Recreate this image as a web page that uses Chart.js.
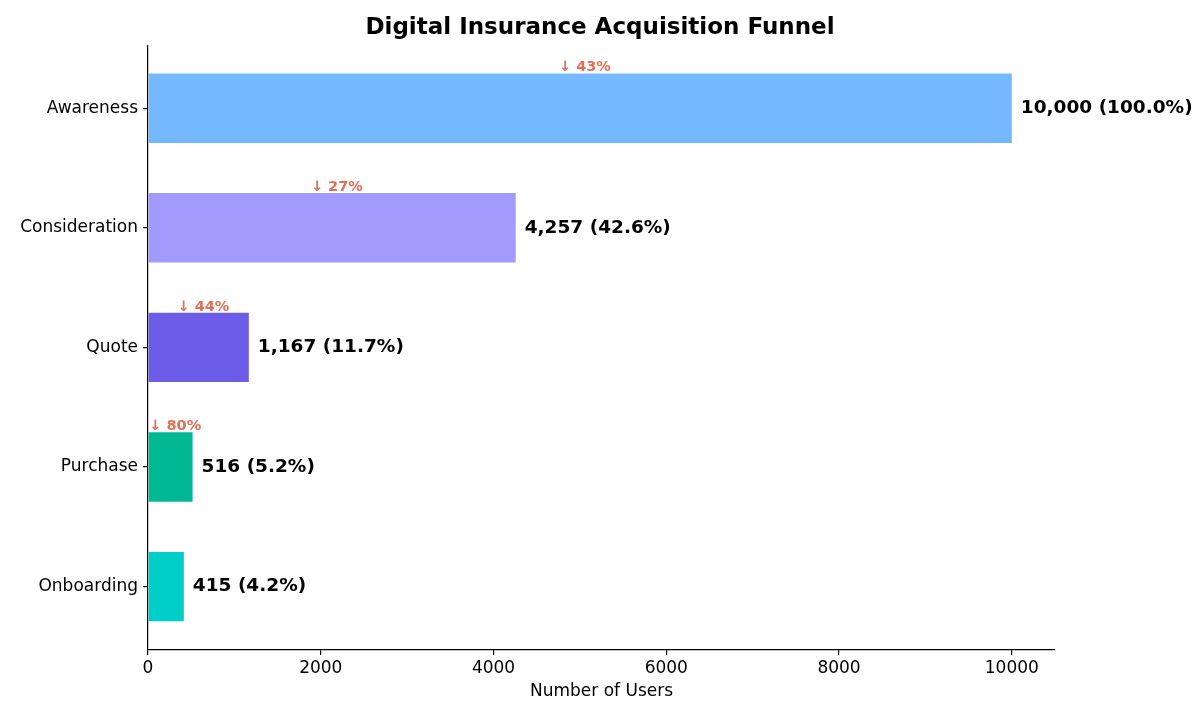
<!DOCTYPE html>
<html>
<head>
<meta charset="utf-8">
<script src="https://cdn.jsdelivr.net/npm/chart.js@4.4.0/dist/chart.umd.min.js"></script>
<style>
  html, body { margin: 0; padding: 0; background: #fff; }
  #wrap { width: 1200px; height: 720px; }
</style>
</head>
<body>
<div id="wrap"><canvas id="funnel"></canvas></div>
<script>
// Data funnel
const stages = ['Awareness', 'Consideration', 'Quote', 'Purchase', 'Onboarding'];
const users = [10000, 4257, 1167, 516, 415];
const stageColors = ['#74b9ff', '#a29bfe', '#6c5ce7', '#00b894', '#00cec9'];
// conversion to the next stage, shown above each bar
const conversion = [43, 27, 44, 80];
const xTicks = [0, 2000, 4000, 6000, 8000, 10000];

const FONT = "'DejaVu Sans', sans-serif";
const TITLE = 'Digital Insurance Acquisition Funnel';

// Judul, label nilai dan konversi
const funnelLabels = {
  id: 'funnelLabels',
  afterDatasetsDraw(chart) {
    const { ctx, scales } = chart;
    const x = scales.x, y = scales.y;
    ctx.save();
    ctx.textBaseline = 'middle';

    // title centred on the whole figure
    ctx.font = 'bold 23px ' + FONT;
    ctx.fillStyle = '#000';
    ctx.textAlign = 'center';
    ctx.fillText(TITLE, chart.width / 2, 28);

    // value (share of top)
    ctx.font = 'bold 18.5px ' + FONT;
    ctx.textAlign = 'left';
    users.forEach((v, i) => {
      const pct = (v / users[0] * 100).toFixed(1);
      const txt = v.toLocaleString('en-US') + ' (' + pct + '%)';
      ctx.fillText(txt, x.getPixelForValue(v) + 9, y.getPixelForValue(i));
    });

    // conversion arrows
    ctx.font = 'bold 14.5px ' + FONT;
    ctx.fillStyle = '#e17055';
    ctx.textAlign = 'center';
    conversion.forEach((c, i) => {
      const px = x.getPixelForValue(users[i] / 2) + 5;
      const py = y.getPixelForValue(i - 0.34);
      ctx.fillText('↓ ' + c + '%', px, py);
    });
    ctx.restore();
  }
};

new Chart(document.getElementById('funnel'), {
  type: 'bar',
  data: {
    datasets: [{
      data: users.map((v, i) => ({ x: v, y: i })),
      backgroundColor: stageColors,
      borderWidth: 0,
      barPercentage: 0.58,
      categoryPercentage: 1
    }]
  },
  options: {
    indexAxis: 'y',
    responsive: true,
    maintainAspectRatio: false,
    animation: false,
    layout: { padding: { left: 0, right: 145, top: 46, bottom: 0 } },
    plugins: {
      legend: { display: false },
      tooltip: { enabled: false },
      title: { display: false }
    },
    scales: {
      x: {
        type: 'linear',
        min: 0,
        max: 10500,
        afterBuildTicks: scale => { scale.ticks = xTicks.map(v => ({ value: v })); },
        afterFit: scale => { scale.height = 70; },
        border: { display: true, color: '#000', width: 1.2 },
        grid: { display: true, drawOnChartArea: false, drawTicks: true, tickLength: 5, color: '#000', lineWidth: 1.2 },
        ticks: {
          color: '#000',
          font: { family: FONT, size: 17 },
          padding: 3,
          maxRotation: 0,
          callback: v => String(v)
        },
        title: {
          display: true,
          text: 'Number of Users',
          color: '#000',
          font: { family: FONT, size: 17 },
          padding: { top: 4, bottom: 18 }
        }
      },
      y: {
        type: 'linear',
        reverse: true,
        offset: false,
        min: -0.52,
        max: 4.53,
        afterBuildTicks: scale => { scale.ticks = stages.map((s, i) => ({ value: i })); },
        afterFit: scale => { scale.width = 148; },
        border: { display: true, color: '#000', width: 1.2 },
        grid: { display: true, offset: false, drawOnChartArea: false, drawTicks: true, tickLength: 5, color: '#000', lineWidth: 1.2 },
        ticks: {
          color: '#000',
          font: { family: FONT, size: 17 },
          padding: 5,
          callback: v => stages[v]
        }
      }
    }
  },
  plugins: [funnelLabels]
});
</script>
</body>
</html>
